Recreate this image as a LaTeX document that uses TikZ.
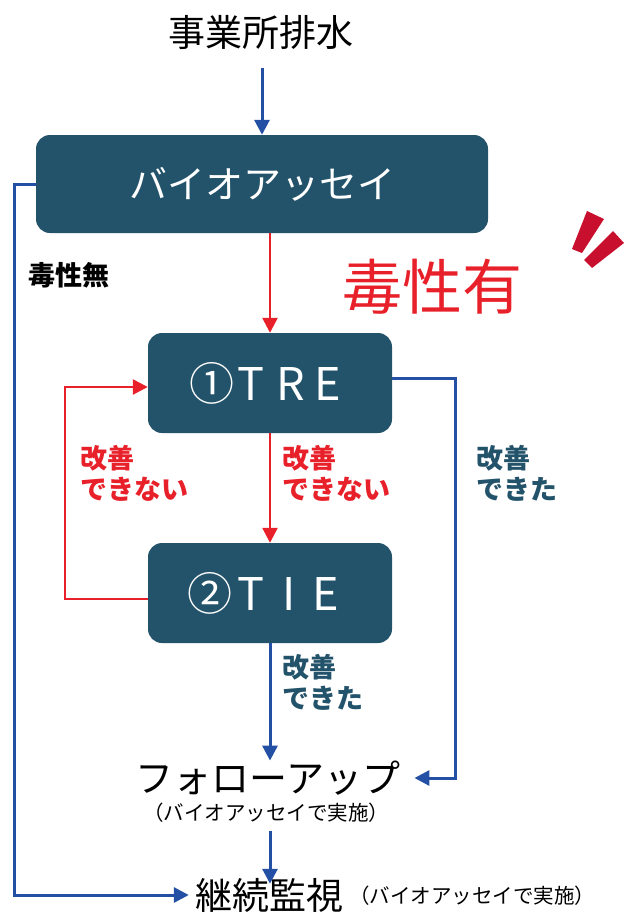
\documentclass[tikz,border=0pt]{standalone}
\usepackage{fontspec}
\setmainfont{Noto Sans CJK JP}
\usetikzlibrary{arrows.meta}
\definecolor{boxc}{HTML}{23536A}
\definecolor{lblue}{HTML}{2350A5}
\definecolor{lred}{HTML}{E8202A}
\definecolor{mred}{HTML}{C8102E}
\tikzset{
  procbox/.style={draw=none,fill=boxc,rounded corners=14pt,text=white,minimum width=244pt,minimum height=100pt,font=\fontsize{45}{50}\selectfont,inner sep=0pt},
  tip/.style={-{Triangle[length=15pt,width=15pt]}},
  bline/.style={draw=lblue,line width=3pt,tip},
  rline/.style={draw=lred,line width=2.5pt,tip},
  lbl/.style={align=left,anchor=north west,inner sep=0pt,font=\fontsize{27}{31}\selectfont\bfseries},
  plain/.style={inner sep=0pt,text=black}
}
\begin{document}
\begin{tikzpicture}[x=1pt,y=-1pt]
\useasboundingbox (0,0) rectangle (625,916);
% nodes
\node[plain,font=\fontsize{37}{40}\selectfont] (src) at (261,32) {事業所排水};
\node[procbox,minimum width=452pt,minimum height=98pt,font=\fontsize{38}{44}\selectfont] (bio) at (262,184) {バイオアッセイ};
\node[procbox] (tre) at (270,383) {\makebox[36pt]{①}\makebox[42pt]{T}\makebox[37pt]{R}\makebox[37pt]{E}\hspace{14pt}};
\node[procbox] (tie) at (270,593) {\makebox[36pt]{②}\makebox[47pt]{T}\makebox[29pt]{I}\makebox[45pt]{E}\hspace{9pt}};
\node[plain,font=\fontsize{38}{40}\selectfont] (follow) at (268,778) {フォローアップ};
\node[plain,font=\fontsize{20.5}{22}\selectfont] (fsub) at (266,813) {（バイオアッセイで実施）};
\node[plain,font=\fontsize{37}{40}\selectfont] (cont) at (269,895) {継続監視};
\node[plain,font=\fontsize{20.5}{22}\selectfont,anchor=west] (csub) at (349,896) {（バイオアッセイで実施）};
% labels
\node[lbl,text=black,font=\fontsize{27}{30}\selectfont\bfseries] (nontox) at (28,262) {毒性無};
\node[lbl,text=lred,font=\fontsize{60}{64}\selectfont,anchor=west] (tox) at (342,287) {毒性有};
\node[lbl,text=lred] (ng1) at (80,445) {改善\\できない};
\node[lbl,text=lred] (ng2) at (282,445) {改善\\できない};
\node[lbl,text=boxc] (ok1) at (476,445) {改善\\できた};
\node[lbl,text=boxc] (ok2) at (282,654) {改善\\できた};
% connectors
\coordinate (srcbot) at (262,68);
\draw[bline] (srcbot) -- (bio.north -| srcbot);
\draw[rline] (bio.south -| tre.north) -- (tre.north);
\draw[rline] (tre.south) -- (tie.north);
\draw[rline] ([yshift=-6pt]tie.west) -- ++(-83,0) |- ([yshift=-4pt]tre.west);
\draw[bline] (tie.south) -- (tie.south |- follow.north);
\draw[bline] ([yshift=5pt]tre.east) -- (455,378) |- ([xshift=14pt]follow.east);
\draw[bline] ([yshift=-8pt]fsub.south -| tie.south) -- ([yshift=-6pt]cont.north -| tie.south);
\draw[bline] (bio.west) -- (14,184) |- ([xshift=-6pt]cont.west);
% red marks
\fill[mred] (587,211) -- (604,219) -- (582,253) -- (572,249) -- cycle;
\fill[mred] (613,231) -- (624,243) -- (592,268) -- (584,260) -- cycle;
\end{tikzpicture}
\end{document}
